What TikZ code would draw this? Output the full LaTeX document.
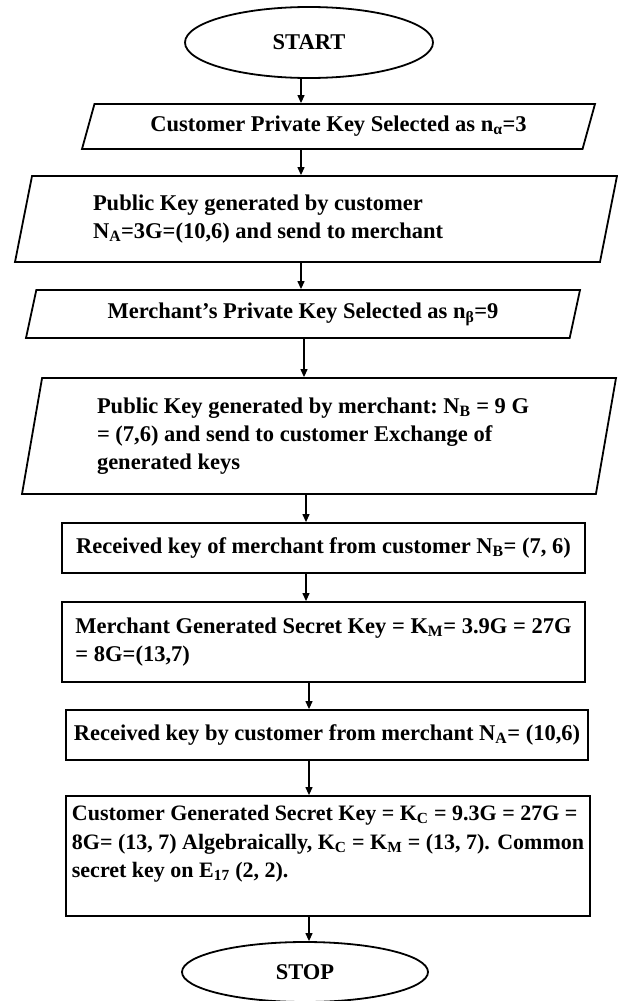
\documentclass[tikz,border=0pt]{standalone}
\usepackage{fontspec}
\setmainfont{Liberation Serif}
\usetikzlibrary{arrows.meta}
\usetikzlibrary{positioning}
\usetikzlibrary{shapes.geometric}

\begin{document}
\begin{tikzpicture}[x=1pt,y=-1pt,
    font=\fontsize{22.5}{28}\selectfont\bfseries,
    term/.style={ellipse, draw, line width=1.8pt, inner sep=0pt},
    io/.style={trapezium, draw, line width=1.8pt, trapezium stretches body, inner xsep=0pt, inner ysep=2pt},
    proc/.style={rectangle, draw, line width=1.8pt, align=left, inner xsep=6pt},
    flow/.style={-{Triangle[length=8pt,width=7pt]}, line width=1.2pt}]
   \useasboundingbox (0,0) rectangle (618,1001);
   % arrow columns
   \coordinate (ax_1) at (301,0);
   \coordinate (ax_2) at (304,0);
   \coordinate (ax_3) at (306,0);
   \coordinate (ax_4) at (309,0);
   \node[term, minimum width=248pt, minimum height=71pt] (start) at (309,42.5) {START};
   \node[io, trapezium left angle=63, trapezium right angle=117, minimum width=513pt, minimum height=45pt, align=center] (priv_c) at (338.5,126.5)
      {Customer Private Key Selected as n\textsubscript{α}=3};
   \node[io, trapezium left angle=72, trapezium right angle=108, minimum width=602pt, minimum height=86pt, text width=446pt, align=flush left] (pub_c) at (316,219)
      {Public Key generated by customer\\ N\textsubscript{A}=3G=(10,6) and send to merchant};
   \node[io, trapezium left angle=69, trapezium right angle=111, minimum width=554pt, minimum height=48pt, align=center] (priv_m) at (303,314)
      {Merchant’s Private Key Selected as n\textsubscript{β}=9};
   \node[io, trapezium left angle=76, trapezium right angle=104, minimum width=594pt, minimum height=116pt, text width=444pt, align=flush left] (pub_m) at (319,436)
      {Public Key generated by merchant:\ N\textsubscript{B} = 9 G\\ = (7,6) and send to customer Exchange of\\ generated keys};
   \node[proc, minimum width=523pt, minimum height=50pt] (get_m) at (323.5,548)
      {Received key of merchant from customer N\textsubscript{B}= (7, 6)};
   \node[proc, minimum width=523pt, minimum height=80pt] (key_m) at (323.5,642)
      {Merchant Generated Secret Key = K\textsubscript{M}= 3.9G = 27G\\ = 8G=(13,7)};
   \node[proc, minimum width=522pt, minimum height=50pt] (get_c) at (327,735)
      {Received key by customer from merchant N\textsubscript{A}= (10,6)};
   \node[proc, inner xsep=0pt, font=\fontsize{22}{28.5}\selectfont\bfseries, minimum width=524pt, minimum height=120pt] (key_c) at (328,856)
      {Customer Generated Secret Key = K\textsubscript{C} = 9.3G = 27G =\\ 8G= (13, 7) Algebraically, K\textsubscript{C} = K\textsubscript{M} = (13, 7). Common\\ secret key on E\textsubscript{17} (2, 2).\\[-8pt] \strut};
   \node[term, minimum width=246pt, minimum height=60pt] (stop) at (305,972) {STOP};
   \path[flow]
    (start.south -| ax_1)  edge (priv_c.north -| ax_1)
    (priv_c.south -| ax_1) edge (pub_c.north -| ax_1)
    (pub_c.south -| ax_1)  edge (priv_m.north -| ax_1)
    (priv_m.south -| ax_2) edge (pub_m.north -| ax_2)
    (pub_m.south -| ax_3)  edge (get_m.north -| ax_3)
    (get_m.south -| ax_3)  edge (key_m.north -| ax_3)
    (key_m.south -| ax_4)  edge (get_c.north -| ax_4)
    (get_c.south -| ax_4)  edge (key_c.north -| ax_4)
    (key_c.south -| ax_4)  edge (stop.north -| ax_4);
\end{tikzpicture}
\end{document}
